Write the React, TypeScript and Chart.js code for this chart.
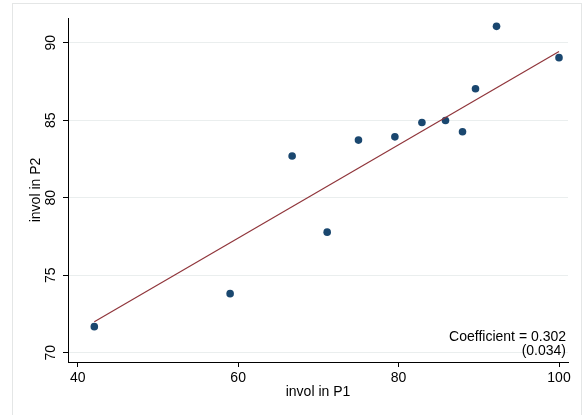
import { useEffect, useRef } from 'react';
import { Chart, registerables } from 'chart.js';

Chart.register(...registerables);

const xTicks = [40, 60, 80, 100];
const yTicks = [70, 75, 80, 85, 90];
const involP1 = [42.07, 59.0, 66.73, 71.1, 75.0, 79.54, 82.91, 85.85, 87.97, 89.59, 92.21, 100.0];
const involP2 = [71.68, 73.81, 82.69, 77.78, 83.72, 83.93, 84.86, 84.99, 84.26, 87.03, 91.06, 89.04];
const fitX = [42.07, 100.0];
const fitY = [72.0, 89.44];
const coefLines = ['Coefficient = 0.302', '(0.034)'];
const xTitle = 'invol in P1';
const yTitle = 'invol in P2';

const FONT_FAMILY = '"Liberation Sans", Arial, Helvetica, sans-serif';
const font = { family: FONT_FAMILY, size: 14 };

export default function App() {
  const ref = useRef<HTMLCanvasElement>(null);

  useEffect(() => {
    if (!ref.current) return;

    const framePlugin = {
      id: 'frame',
      beforeDraw(chart: any) {
        const ctx = chart.ctx;
        ctx.save();
        ctx.fillStyle = '#ffffff';
        ctx.fillRect(0, 0, chart.width, chart.height);
        ctx.strokeStyle = '#e4e6e6';
        ctx.lineWidth = 1;
        ctx.strokeRect(12.5, 3.5, 569, 430);
        ctx.restore();
      },
    };

    const labelsPlugin = {
      id: 'labels',
      afterDraw(chart: any) {
        const ctx = chart.ctx;
        const ys = chart.scales.y;
        const area = chart.chartArea;
        ctx.save();
        ctx.font = `14px ${FONT_FAMILY}`;
        ctx.fillStyle = '#000';
        ctx.textAlign = 'center';
        ctx.textBaseline = 'alphabetic';
        yTicks.forEach((v) => {
          const py = ys.getPixelForValue(v);
          ctx.save();
          ctx.translate(ys.right - 12.7, py);
          ctx.rotate(-Math.PI / 2);
          ctx.fillText(String(v), 0, 0);
          ctx.restore();
        });
        ctx.textAlign = 'right';
        coefLines.forEach((t, i) => {
          ctx.fillText(t, area.right - 2, area.bottom - 21 + i * 14);
        });
        ctx.restore();
      },
    };

    const chart = new Chart(ref.current, {
      type: 'scatter',
      data: {
        datasets: [
          {
            type: 'line',
            data: fitX.map((x, i) => ({ x, y: fitY[i] })),
            borderColor: '#90353b',
            borderWidth: 1.2,
            pointRadius: 0,
            fill: false,
            order: 0,
          } as any,
          {
            type: 'scatter',
            data: involP1.map((x, i) => ({ x, y: involP2[i] })),
            backgroundColor: '#1a476f',
            borderColor: '#1a476f',
            borderWidth: 0,
            pointRadius: 3.8,
            order: 1,
          },
        ],
      },
      options: {
        animation: false,
        responsive: false,
        maintainAspectRatio: false,
        layout: { padding: { top: 18, right: 16, left: 0, bottom: 0 } },
        plugins: { legend: { display: false }, tooltip: { enabled: false } },
        scales: {
          x: {
            type: 'linear',
            min: 38.79,
            max: 101.12,
            afterBuildTicks: (s: any) => {
              s.ticks = xTicks.map((v) => ({ value: v }));
            },
            afterFit: (s: any) => {
              s.height = 53;
            },
            grid: { drawOnChartArea: false, drawTicks: true, tickLength: 5, tickColor: '#000', color: '#000' },
            border: { display: true, color: '#000', width: 1 },
            ticks: { font, color: '#000', padding: 3, maxRotation: 0, minRotation: 0 },
            title: { display: true, text: xTitle, font, color: '#000', padding: { top: 0, bottom: 14.6 } },
          },
          y: {
            type: 'linear',
            min: 69.4,
            max: 91.6,
            afterBuildTicks: (s: any) => {
              s.ticks = yTicks.map((v) => ({ value: v }));
            },
            afterFit: (s: any) => {
              s.width = 68;
            },
            grid: { color: '#eaeeee', tickColor: '#000', tickLength: 5, drawTicks: true },
            border: { display: true, color: '#000', width: 1 },
            ticks: { display: false },
            title: { display: true, text: yTitle, font, color: '#000', padding: { top: 27.4, bottom: 0 } },
          },
        },
      },
      plugins: [framePlugin, labelsPlugin],
    });

    return () => chart.destroy();
  }, []);

  return (
    <div style={{ position: 'absolute', left: 0, top: 0, width: 584, height: 415 }}>
      <canvas ref={ref} width={584} height={415} style={{ display: 'block' }} />
    </div>
  );
}
